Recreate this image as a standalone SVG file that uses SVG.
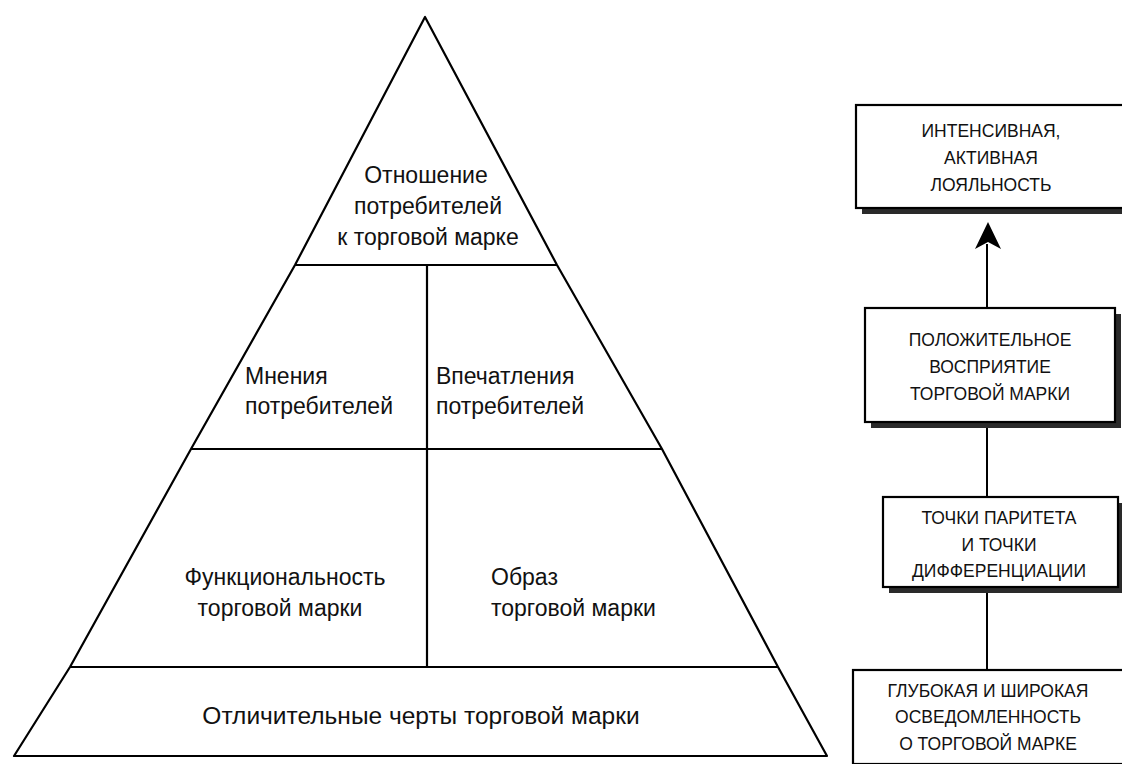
<svg xmlns="http://www.w3.org/2000/svg" width="1122" height="764" viewBox="0 0 1122 764">
  <style>
    .edge { fill: none; stroke: #000; stroke-width: 2.2; stroke-linejoin: round; }
    .tier { font-family: "Liberation Sans", Arial, sans-serif; font-size: 23px; fill: #111; }
    .base { font-size: 24.5px; }
    .box { fill: #fff; stroke: #000; stroke-width: 2.2; }
    .shadow { fill: #2a2a2a; }
    .cap { font-family: "Liberation Sans", Arial, sans-serif; font-size: 17.5px; fill: #111; text-anchor: middle; }
    .wire { stroke: #000; stroke-width: 2; fill: none; }
  </style>
  <rect width="1122" height="764" fill="#fff"/>

  <!-- Pyramid of brand resonance -->
  <g id="pyramid">
    <path class="edge" d="M425,17 L295,265 L191,449 L70,667 L14,756 L827,756 L778,667 L662,449 L557,265 Z"/>
    <line class="edge" x1="295" y1="265" x2="557" y2="265"/>
    <line class="edge" x1="191" y1="449" x2="662" y2="449"/>
    <line class="edge" x1="70" y1="667" x2="778" y2="667"/>
    <line class="edge" x1="427" y1="265" x2="427" y2="667"/>
  </g>

  <g id="tier-relationship">
    <text class="tier" text-anchor="middle"><tspan x="426" y="183">Отношение</tspan><tspan x="428" y="214">потребителей</tspan><tspan x="428" y="245">к торговой марке</tspan></text>
  </g>
  <g id="tier-judgments">
    <text class="tier"><tspan x="245" y="384">Мнения</tspan><tspan x="245" y="414">потребителей</tspan></text>
  </g>
  <g id="tier-feelings">
    <text class="tier"><tspan x="436" y="384">Впечатления</tspan><tspan x="436" y="414">потребителей</tspan></text>
  </g>
  <g id="tier-performance">
    <text class="tier" text-anchor="middle"><tspan x="285" y="585">Функциональность</tspan><tspan x="280" y="616">торговой марки</tspan></text>
  </g>
  <g id="tier-imagery">
    <text class="tier"><tspan x="491" y="585">Образ</tspan><tspan x="491" y="616">торговой марки</tspan></text>
  </g>
  <g id="tier-salience">
    <text class="tier base" text-anchor="middle" x="421" y="724">Отличительные черты торговой марки</text>
  </g>

  <!-- Loyalty ladder on the right -->
  <g id="connectors">
    <line class="wire" x1="987" y1="244" x2="987" y2="308"/>
    <path d="M988,222 L1001,249 L988,242 L975,249 Z" fill="#000"/>
    <line class="wire" x1="987" y1="426" x2="987" y2="497"/>
    <line class="wire" x1="987" y1="593" x2="987" y2="670"/>
  </g>

  <g id="step-loyalty">
    <rect class="shadow" x="862" y="111" width="270" height="103"/>
    <rect class="box" x="856" y="105" width="270" height="103"/>
    <text class="cap"><tspan x="991" y="137">ИНТЕНСИВНАЯ,</tspan><tspan x="991" y="164">АКТИВНАЯ</tspan><tspan x="991" y="191">ЛОЯЛЬНОСТЬ</tspan></text>
  </g>

  <g id="step-perception">
    <rect class="shadow" x="871" y="314" width="250" height="114"/>
    <rect class="box" x="865" y="308" width="250" height="114"/>
    <text class="cap"><tspan x="990" y="346">ПОЛОЖИТЕЛЬНОЕ</tspan><tspan x="990" y="373">ВОСПРИЯТИЕ</tspan><tspan x="990" y="400">ТОРГОВОЙ МАРКИ</tspan></text>
  </g>

  <g id="step-points">
    <rect class="shadow" x="889" y="503" width="235" height="90"/>
    <rect class="box" x="883" y="497" width="235" height="90"/>
    <text class="cap"><tspan x="999" y="524">ТОЧКИ ПАРИТЕТА</tspan><tspan x="999" y="551">И ТОЧКИ</tspan><tspan x="999" y="577">ДИФФЕРЕНЦИАЦИИ</tspan></text>
  </g>

  <g id="step-awareness">
    <rect class="box" x="853" y="670" width="280" height="94"/>
    <text class="cap"><tspan x="988" y="697">ГЛУБОКАЯ И ШИРОКАЯ</tspan><tspan x="988" y="723">ОСВЕДОМЛЕННОСТЬ</tspan><tspan x="988" y="750">О ТОРГОВОЙ МАРКЕ</tspan></text>
  </g>
</svg>
